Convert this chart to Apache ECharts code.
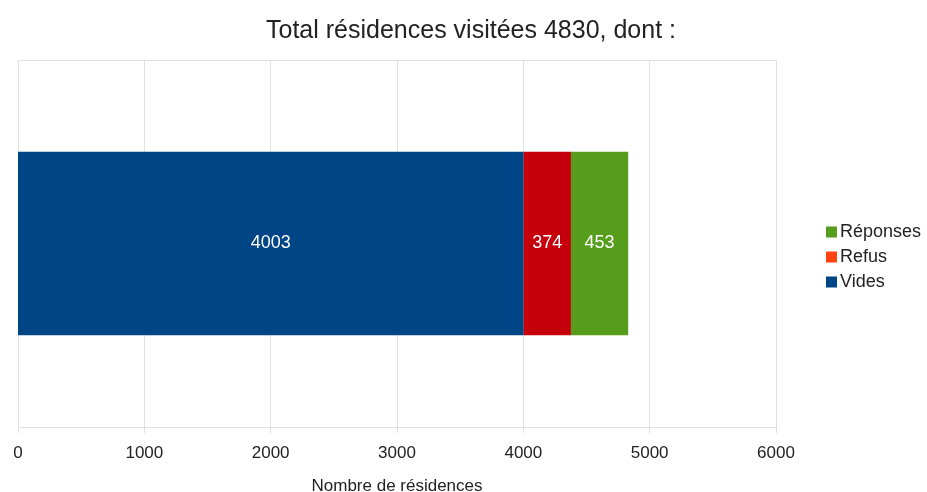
<!DOCTYPE html>
<html><head><meta charset="utf-8">
<script src="https://cdn.jsdelivr.net/npm/echarts@6/dist/echarts.min.js"></script>
<style>html,body{margin:0;padding:0;background:#fff}#c{width:927px;height:492px}</style>
</head><body><div id="c"></div>
<script>
const categories = ['Total'];
const vides = [4003];
const refus = [374];
const reponses = [453];
const xTicks = [0, 1000, 2000, 3000, 4000, 5000, 6000];
const chart = echarts.init(document.getElementById('c'));
const font = 'Liberation Sans, Arial, sans-serif';
const lbl = {show: true, position: 'inside', color: '#fff', fontSize: 18, fontFamily: font};
chart.setOption({
  animation: false,
  title: {text: 'Total résidences visitées 4830, dont :', left: 466, textAlign: 'center', top: 14,
    textStyle: {fontSize: 25, fontWeight: 'normal', color: '#222', fontFamily: font}},
  legend: {orient: 'vertical', left: 821, top: 218, itemWidth: 11, itemHeight: 11, itemGap: 7, icon: 'rect',
    textStyle: {fontSize: 18, color: '#222', fontFamily: font, padding: [0, 0, 0, -2]},
    data: [
      {name: 'Réponses', itemStyle: {color: '#579d1c'}},
      {name: 'Refus', itemStyle: {color: '#ff420e'}},
      {name: 'Vides', itemStyle: {color: '#004586'}}
    ]},
  grid: {left: 18, right: 151, top: 60, bottom: 65, containLabel: false, outerBoundsMode: 'none'},
  xAxis: {type: 'value', min: xTicks[0], max: xTicks[xTicks.length - 1], interval: 1000,
    name: 'Nombre de résidences', nameLocation: 'middle', nameGap: 51,
    nameTextStyle: {fontSize: 17, color: '#222', fontFamily: font},
    axisLine: {show: false},
    axisTick: {show: true, length: 6, lineStyle: {color: '#ddd'}},
    axisLabel: {fontSize: 17, color: '#222', margin: 18, fontFamily: font, formatter: v => String(v)},
    splitLine: {show: true, lineStyle: {color: '#e2e2e2'}}},
  yAxis: {type: 'category', data: categories,
    axisLine: {show: false}, axisTick: {show: false}, axisLabel: {show: false},
    splitLine: {show: true, lineStyle: {color: '#e2e2e2'}}},
  series: [
    {name: 'Vides', type: 'bar', stack: 's', data: vides, barWidth: '50%', itemStyle: {color: '#004586'}, label: lbl},
    {name: 'Refus', type: 'bar', stack: 's', data: refus, barWidth: '50%', itemStyle: {color: '#c5000b'}, label: lbl},
    {name: 'Réponses', type: 'bar', stack: 's', data: reponses, barWidth: '50%', itemStyle: {color: '#579d1c'}, label: lbl}
  ]
});
</script></body></html>
